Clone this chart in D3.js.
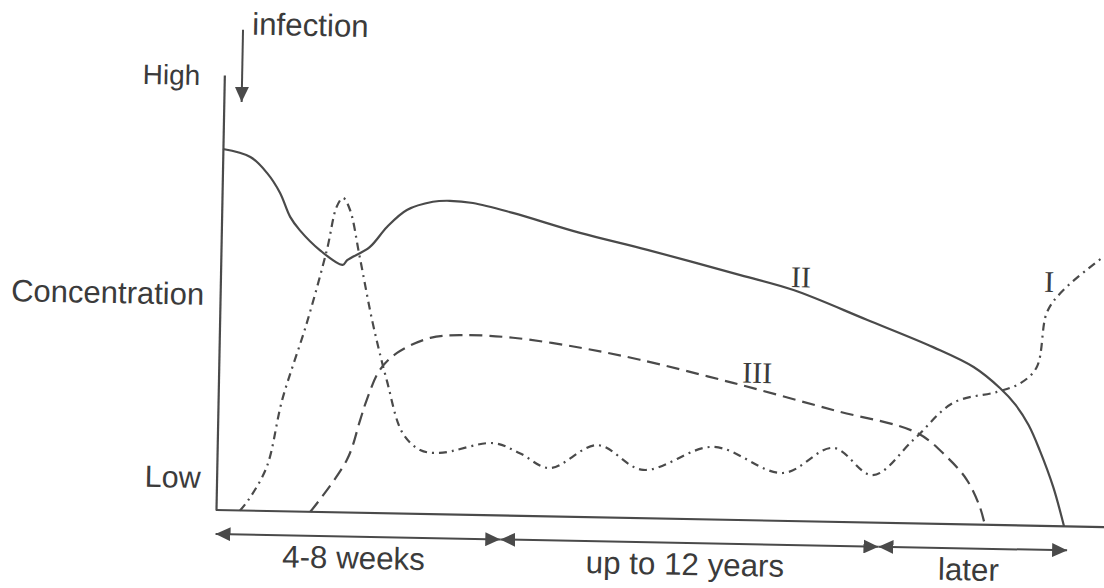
<!DOCTYPE html>
<html>
<head>
<meta charset="utf-8">
<script src="https://cdn.jsdelivr.net/npm/d3@7"></script>
<style>
  body { margin: 0; background: #fff; }
  text { font-family: "Liberation Sans", Arial, sans-serif; fill: #3b3b3b; }
  .roman { font-family: "Liberation Serif", "Times New Roman", serif; }
</style>
</head>
<body>
<div id="chart"></div>
<script>
// concentration curves, [time, level] on a 0-100 scale
var seriesI = [
  [2.7,0],[3.6,2.4],[5.6,10.1],[7.2,25.6],[9.8,43.4],[11.9,60.3],[12.9,70.2],[13.6,72.3],
  [14.4,69.6],[15.6,58.8],[17.2,43.7],[18.9,30.6],[20.8,18.5],[22.8,14.7],[25.0,14.1],
  [31.0,16.6],[34.0,14.4],[37.4,11.1],[42.7,16.6],[47.9,11.1],[55.7,16.7],[63.6,11.0],
  [69.2,17.0],[73.7,10.9],[78.2,19.2],[82.6,27.9],[87.5,30.6],[90.1,32.7],[91.9,36.5],
  [92.9,49.0],[94.4,53.6],[98.4,60.9],[99.2,62.1]
];
var seriesII = [
  [0,83.0],[3.1,81.3],[5.0,77.7],[6.5,73.2],[7.7,67.7],[8.8,64.7],[11.1,60.2],[13.7,56.9],
  [14.2,58.0],[16.7,61.1],[18.6,65.8],[20.8,69.8],[23.7,71.8],[25.6,72.1],[28.2,71.7],
  [32.7,69.6],[40.3,65.3],[47.9,61.7],[58.4,56.3],[64.4,53.1],[72.7,46.6],[80.2,40.6],
  [84.8,36.2],[87.8,31.5],[89.6,27.7],[91.1,23.1],[92.4,17.4],[94.0,9.0],[95.3,0]
];
var seriesIII = [
  [10.6,0],[14.6,12.1],[16.0,21.3],[16.7,26.0],[18.1,32.9],[20.0,36.9],[23.7,40.5],
  [27.4,41.3],[33.0,40.9],[40.6,38.9],[47.3,36.4],[57.8,31.5],[69.1,25.7],[78.6,20.8],
  [82.0,15.4],[84.3,10.2],[85.8,4.1],[86.4,0]
];
var seriesNames = ["I", "II", "III"];
var seriesNameAt = [[93.1,53.8],[65.2,53.8],[60.5,31.6]];

var phaseLabels = ["4-8 weeks", "up to 12 years", "later"];
var phaseBounds = [0, 32, 74.5, 95.7];

var yLabels = ["Low", "Concentration", "High"];
var yLabelAt = [5.0, 47.1, 97.6];

var infectionAt = 2;

var width = 1104;
var height = 588;
var origin = {x: 216, y: 510};
var ink = "#4a4a4a";

var svg = d3.select("#chart")
  .append("svg")
  .attr("width", width)
  .attr("height", height);

svg.append("defs").append("marker")
  .attr("id", "head")
  .attr("viewBox", "0 0 15 14")
  .attr("refX", 15)
  .attr("refY", 7)
  .attr("markerUnits", "userSpaceOnUse")
  .attr("markerWidth", 15)
  .attr("markerHeight", 14)
  .attr("orient", "auto-start-reverse")
  .append("path")
    .attr("d", "M0,0L15,7L0,14Z")
    .attr("fill", ink);

// the scanned figure is tilted a little
var g = svg.append("g")
  .attr("transform", `translate(${origin.x},${origin.y}) rotate(1.1)`);

var xScale = d3.scaleLinear().domain([0, 100]).range([0, 890]);
var yScale = d3.scaleLinear().domain([0, 100]).range([0, -435]);

g.append("g")
  .call(d3.axisBottom(xScale).tickValues([]).tickSizeOuter(0))
  .call(function(a) { a.select(".domain").attr("d", `M${xScale(0)},0H${xScale(102)}`); })
  .selectAll(".domain").attr("stroke", ink).attr("stroke-width", 2.2);

g.append("g")
  .call(d3.axisLeft(yScale).tickValues([]).tickSizeOuter(0))
  .selectAll(".domain").attr("stroke", ink).attr("stroke-width", 2.2);

var line = d3.line()
  .x(function(d) { return xScale(d[0]); })
  .y(function(d) { return yScale(d[1]); })
  .curve(d3.curveCatmullRom.alpha(0.5));

var styles = [
  {data: seriesI, dash: "8,5,2,5"},
  {data: seriesII, dash: null},
  {data: seriesIII, dash: "13,7"}
];

g.selectAll("path.curve")
  .data(styles)
  .enter()
  .append("path")
    .attr("class", "curve")
    .attr("d", function(d) { return line(d.data); })
    .attr("fill", "none")
    .attr("stroke", ink)
    .attr("stroke-width", 2.2)
    .attr("stroke-dasharray", function(d) { return d.dash; });

g.selectAll("text.roman")
  .data(seriesNames)
  .enter()
  .append("text")
    .attr("class", "roman")
    .attr("x", function(d, i) { return xScale(seriesNameAt[i][0]); })
    .attr("y", function(d, i) { return yScale(seriesNameAt[i][1]); })
    .attr("text-anchor", "middle")
    .style("font-size", "30px")
    .text(function(d) { return d; });

var ySizes = {"Low": "30.5px", "Concentration": "31px", "High": "28px"};

g.selectAll("text.ylab")
  .data(yLabels)
  .enter()
  .append("text")
    .attr("class", "ylab")
    .attr("x", function(d) { return d == "High" ? -24 : -16; })
    .attr("y", function(d, i) { return yScale(yLabelAt[i]); })
    .attr("text-anchor", "end")
    .style("font-size", function(d) { return ySizes[d]; })
    .text(function(d) { return d; });

// phase brackets under the time axis
var phases = phaseLabels.map(function(p, i) {
  return {label: p, from: phaseBounds[i], to: phaseBounds[i + 1]};
});

g.selectAll("line.phase")
  .data(phases)
  .enter()
  .append("line")
    .attr("class", "phase")
    .attr("x1", function(d) { return xScale(d.from); })
    .attr("x2", function(d) { return xScale(d.to); })
    .attr("y1", 24)
    .attr("y2", 24)
    .attr("stroke", ink)
    .attr("stroke-width", 2)
    .attr("marker-start", "url(#head)")
    .attr("marker-end", "url(#head)");

g.selectAll("text.phase")
  .data(phases)
  .enter()
  .append("text")
    .attr("class", "phase")
    .attr("x", function(d) { return xScale((d.from + d.to) / 2) - 4; })
    .attr("y", 56)
    .attr("text-anchor", "middle")
    .style("font-size", "31.3px")
    .text(function(d) { return d.label; });

// infection marker
g.append("line")
  .attr("x1", xScale(infectionAt))
  .attr("x2", xScale(infectionAt))
  .attr("y1", yScale(110.5))
  .attr("y2", yScale(93.9))
  .attr("stroke", ink)
  .attr("stroke-width", 2)
  .attr("marker-end", "url(#head)");

g.append("text")
  .attr("x", xScale(infectionAt) + 9)
  .attr("y", yScale(109.4))
  .style("font-size", "31.3px")
  .text("infection");
</script>
</body>
</html>
